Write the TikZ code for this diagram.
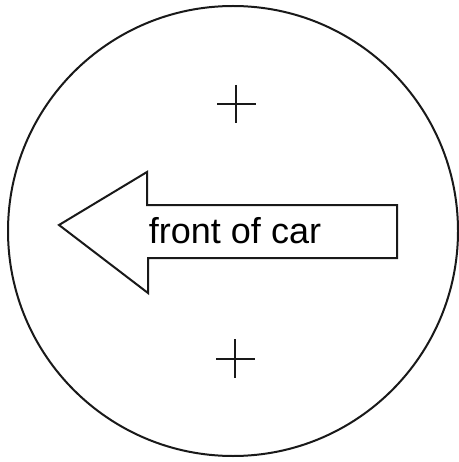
\documentclass[tikz,border=0pt]{standalone}
\usepackage{fontspec}
\setmainfont{Liberation Sans}
\begin{document}
\begin{tikzpicture}[x=1pt,y=-1pt,
  ln/.style={line width=2pt,draw=black!90},
  lbl/.style={font=\fontsize{36}{40}\selectfont,inner sep=0pt,anchor=base}]
\useasboundingbox (0,0) rectangle (458,462);
\draw[ln] (233,231) circle[radius=225];
\draw[ln,line join=miter] (59,225) -- (147,172) -- (147,205) -- (397,205) -- (397,258) -- (148,258) -- (148,293) -- cycle;
\node[lbl] (t) at (235,243) {front of car};
\draw[ln] (217,104) -- (256,104) (236,85) -- (236,123);
\draw[ln] (216,359) -- (255,359) (235,339) -- (235,378);
\end{tikzpicture}
\end{document}
